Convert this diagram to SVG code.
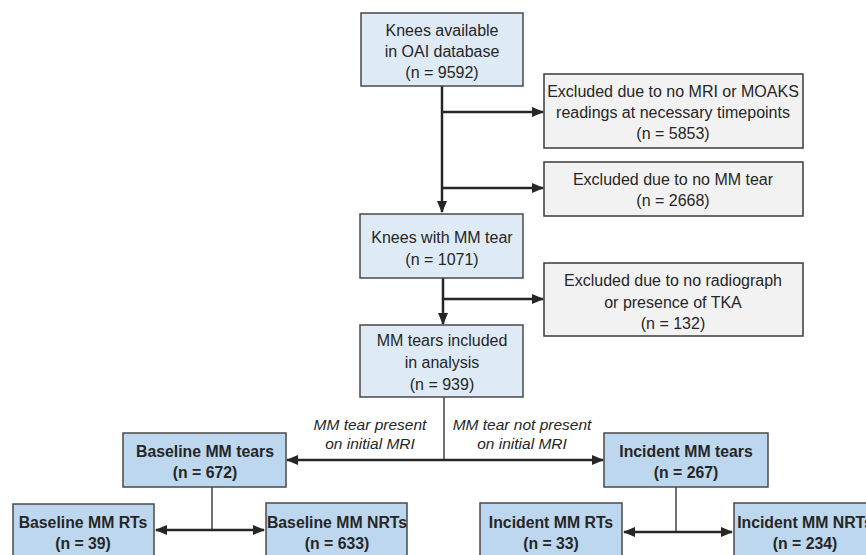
<svg xmlns="http://www.w3.org/2000/svg" width="866" height="555" viewBox="0 0 866 555">
<style>
text{font-family:"Liberation Sans",Arial,sans-serif;font-size:16px;fill:#262626;text-anchor:middle}
.b{font-weight:bold;font-size:15.8px}
.i{font-style:italic;font-size:15.5px}
.lt{fill:#deeaf6;stroke:#4a4a4a;stroke-width:1.5}
.gr{fill:#f2f2f2;stroke:#3a3a3a;stroke-width:1.5}
.dk{fill:#bdd7ee;stroke:#4a4a4a;stroke-width:1.5}
.ln{stroke:#262626;stroke-width:2.5;fill:none}
.th{stroke:#262626;stroke-width:1.3;fill:none}
</style>
<defs>
<marker id="ah" markerUnits="userSpaceOnUse" markerWidth="12" markerHeight="12" viewBox="0 0 12 12" refX="11" refY="6" orient="auto-start-reverse">
<path d="M0,1 L12,6 L0,11 Z" fill="#262626"/>
</marker>
</defs>
<g id="connectors">
<line class="ln" x1="442" y1="86" x2="442" y2="212" marker-end="url(#ah)"/>
<line class="ln" x1="442" y1="112" x2="543" y2="112" marker-end="url(#ah)"/>
<line class="ln" x1="442" y1="188" x2="543" y2="188" marker-end="url(#ah)"/>
<line class="ln" x1="443" y1="278" x2="443" y2="324" marker-end="url(#ah)"/>
<line class="ln" x1="443" y1="299" x2="543" y2="299" marker-end="url(#ah)"/>
<line class="th" x1="444" y1="397" x2="444" y2="460"/>
<line class="ln" x1="287" y1="460" x2="603" y2="460" marker-start="url(#ah)" marker-end="url(#ah)"/>
<line class="th" x1="212" y1="487" x2="212" y2="530"/>
<line class="ln" x1="156" y1="530" x2="264" y2="530" marker-start="url(#ah)" marker-end="url(#ah)"/>
<line class="th" x1="676" y1="487" x2="676" y2="532"/>
<line class="ln" x1="624" y1="532" x2="732" y2="532" marker-start="url(#ah)" marker-end="url(#ah)"/>
<text class="i" x="370" y="430">MM tear present</text>
<text class="i" x="370" y="449">on initial MRI</text>
<text class="i" x="522" y="430">MM tear not present</text>
<text class="i" x="522" y="449">on initial MRI</text>
</g>
<g id="n1">
<rect class="lt" x="361" y="13" width="162" height="73"/>
<text x="442" y="36">Knees available</text>
<text x="442" y="57">in OAI database</text>
<text x="442" y="78">(n = 9592)</text>
</g>
<g id="n2">
<rect class="gr" x="544" y="74" width="259" height="74"/>
<text x="673" y="97">Excluded due to no MRI or MOAKS</text>
<text x="673" y="118">readings at necessary timepoints</text>
<text x="673" y="139">(n = 5853)</text>
</g>
<g id="n3">
<rect class="gr" x="544" y="162" width="259" height="54"/>
<text x="673" y="185">Excluded due to no MM tear</text>
<text x="673" y="206">(n = 2668)</text>
</g>
<g id="n4">
<rect class="lt" x="360" y="214" width="163" height="64"/>
<text x="442" y="243">Knees with MM tear</text>
<text x="442" y="265">(n = 1071)</text>
</g>
<g id="n5">
<rect class="gr" x="544" y="263" width="259" height="73"/>
<text x="673" y="286">Excluded due to no radiograph</text>
<text x="673" y="308">or presence of TKA</text>
<text x="673" y="329">(n = 132)</text>
</g>
<g id="n6">
<rect class="lt" x="360" y="325" width="163" height="72"/>
<text x="442" y="346">MM tears included</text>
<text x="442" y="368">in analysis</text>
<text x="442" y="390">(n = 939)</text>
</g>
<g id="n7">
<rect class="dk" x="123" y="433" width="163" height="54"/>
<text class="b" x="205" y="457">Baseline MM tears</text>
<text class="b" x="205" y="478">(n = 672)</text>
</g>
<g id="n8">
<rect class="dk" x="604" y="433" width="164" height="54"/>
<text class="b" x="686" y="457">Incident MM tears</text>
<text class="b" x="686" y="478">(n = 267)</text>
</g>
<g id="n9">
<rect class="dk" x="13" y="504" width="141" height="60"/>
<text class="b" x="83" y="528">Baseline MM RTs</text>
<text class="b" x="83" y="549">(n = 39)</text>
</g>
<g id="n10">
<rect class="dk" x="266" y="503" width="141" height="60"/>
<text class="b" x="337" y="528">Baseline MM NRTs</text>
<text class="b" x="337" y="549">(n = 633)</text>
</g>
<g id="n11">
<rect class="dk" x="480" y="503" width="142" height="60"/>
<text class="b" x="551" y="528">Incident MM RTs</text>
<text class="b" x="551" y="549">(n = 33)</text>
</g>
<g id="n12">
<rect class="dk" x="734" y="503" width="142" height="60"/>
<text class="b" x="805" y="528">Incident MM NRTs</text>
<text class="b" x="805" y="549">(n = 234)</text>
</g>
</svg>
